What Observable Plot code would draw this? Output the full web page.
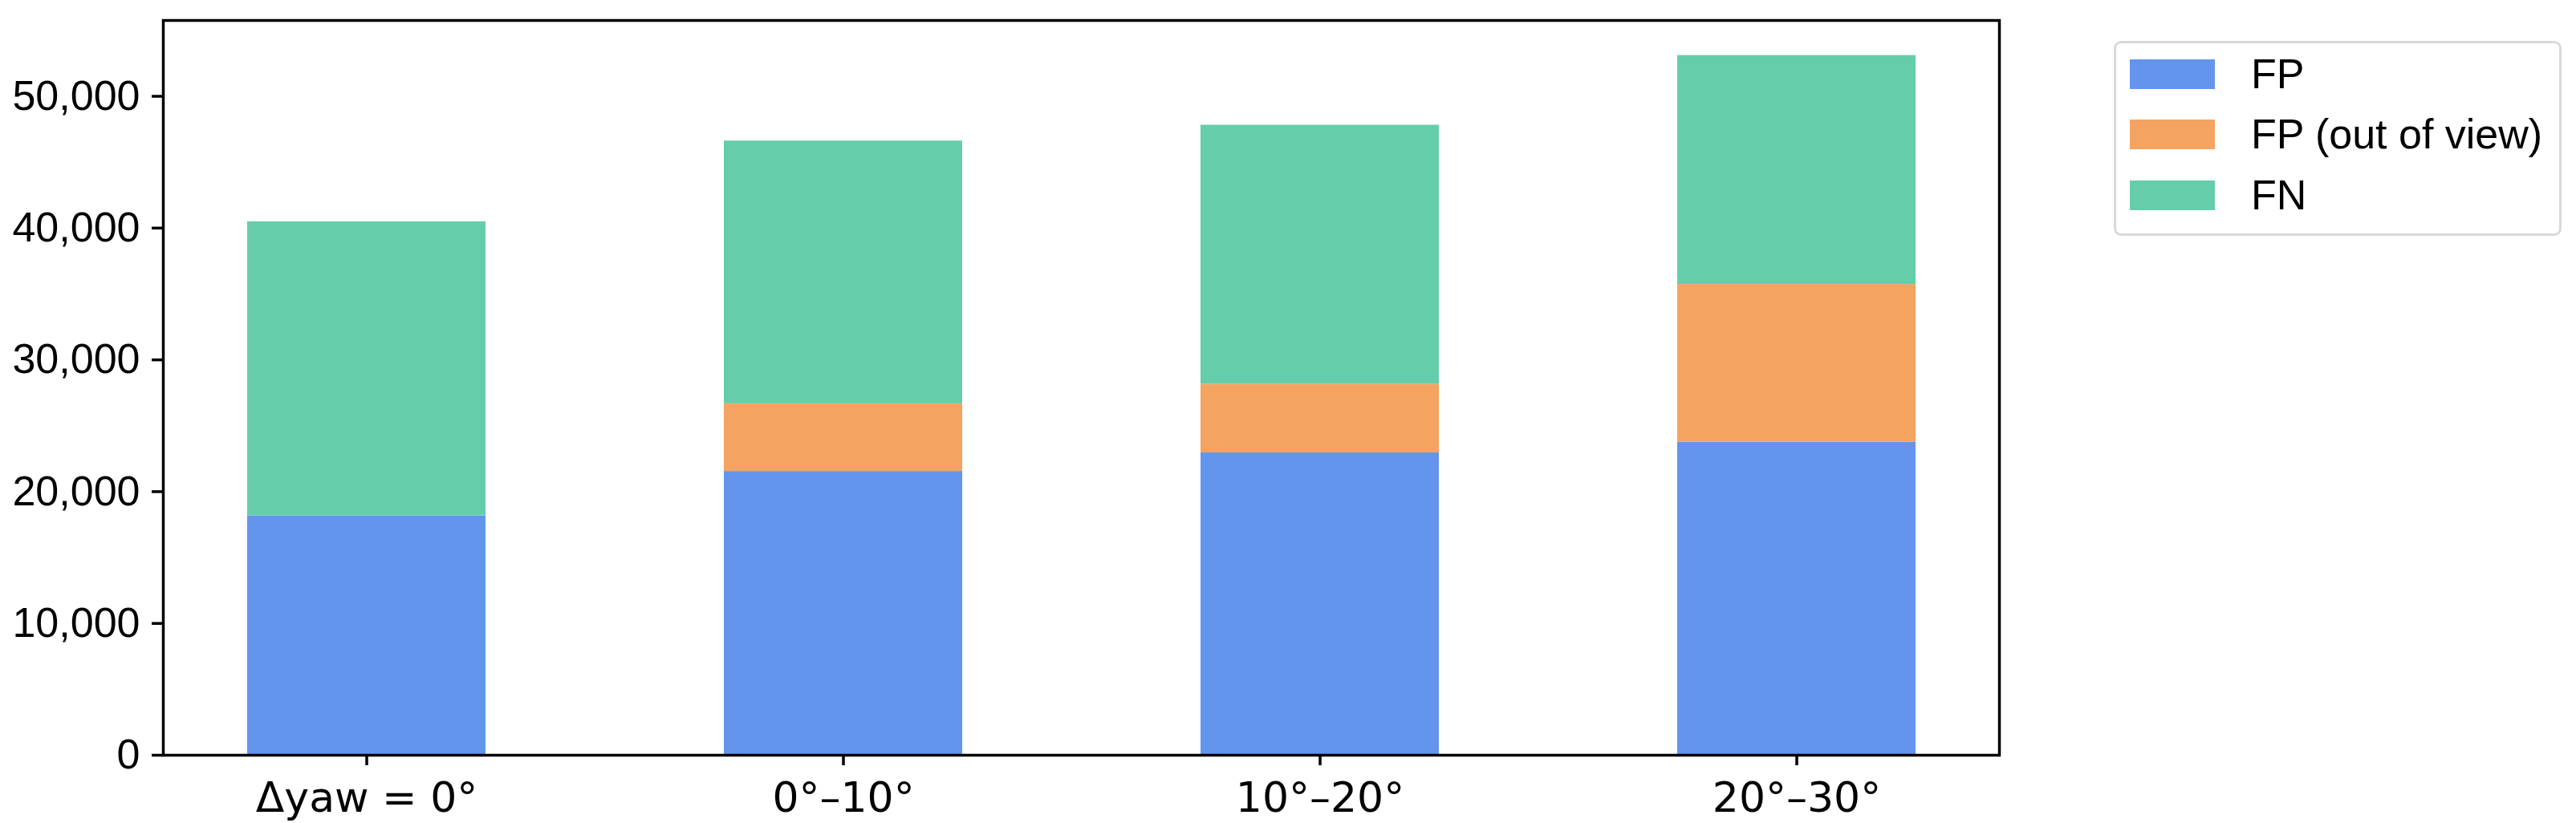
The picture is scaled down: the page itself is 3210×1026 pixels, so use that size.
<!DOCTYPE html>
<html><head><meta charset="utf-8">
<script src="https://cdn.jsdelivr.net/npm/d3@7"></script>
<script src="https://cdn.jsdelivr.net/npm/@observablehq/plot@0.6"></script>
<style>
body{margin:0;background:#fff;}
#wrap{position:relative;width:3210px;height:1026px;}
#legend{position:absolute;left:2634px;top:51px;width:558px;height:243px;box-sizing:border-box;border:3px solid #d9d9d9;border-radius:9px;background:#fff;font-family:"Liberation Sans",Arial,sans-serif;font-size:52px;color:#000;}
.sw{position:absolute;left:17px;width:106px;height:37px;}
.lab{position:absolute;left:168px;white-space:nowrap;line-height:52px;height:52px;}
</style>
</head><body>
<div id="wrap"></div>
<script>
const categories = ["Δyaw = 0°", "0°–10°", "10°–20°", "20°–30°"];
const series = ["FP", "FP (out of view)", "FN"];
const colors = ["#6495ED", "#F4A460", "#66CDAA"];
const fpValues = [18170, 21540, 22945, 23750];
const fpOutOfViewValues = [0, 5130, 5205, 11970];
const fnValues = [22310, 19940, 19660, 17380];
const yTicks = [0, 10000, 20000, 30000, 40000, 50000];

const valuesBySeries = [fpValues, fpOutOfViewValues, fnValues];
const data = [];
series.forEach((s, si) => categories.forEach((c, ci) => data.push({category: c, series: s, value: valuesBySeries[si][ci]})));

const totals = categories.map((c, i) => fpValues[i] + fpOutOfViewValues[i] + fnValues[i]);
const yMax = d3.max(totals) * 1.05;

const chart = Plot.plot({
  width: 3210,
  height: 1026,
  marginLeft: 203,
  marginRight: 719,
  marginTop: 25,
  marginBottom: 85,
  style: {background: "#fff", color: "#000"},
  x: {domain: categories, paddingInner: 0.5, paddingOuter: 0.175, label: null},
  y: {domain: [0, yMax], label: null},
  color: {domain: series, range: colors},
  marks: [
    Plot.barY(data, {x: "category", y: "value", fill: "series", z: "series", order: series, insetLeft: 0, insetRight: 0}),
    Plot.axisY({ticks: yTicks, tickFormat: d3.format(","), tickSize: 14, tickPadding: 15, fontSize: 52, strokeWidth: 3.5, label: null, fontFamily: "Liberation Sans, Arial, sans-serif"}),
    Plot.axisX({tickSize: 13, tickPadding: 21, fontSize: 52, strokeWidth: 3.5, label: null, fontFamily: "DejaVu Sans, sans-serif"}),
    Plot.frame({stroke: "#000", strokeWidth: 3.5})
  ]
});

// Mathtext-style first label: Δ upright, "yaw" italic
d3.select(chart).selectAll('g[aria-label="x-axis tick label"] text').each(function(d) {
  if (d === categories[0]) {
    const t = d3.select(this);
    t.text(null);
    t.append("tspan").text("Δ");
    t.append("tspan").attr("font-style", "italic").text("yaw");
    t.append("tspan").text(" = 0°");
  }
});

const wrap = document.getElementById("wrap");
wrap.appendChild(chart);

const legend = document.createElement("div");
legend.id = "legend";
const rowCenters = [38, 113, 189];
series.forEach((s, i) => {
  const sw = document.createElement("div");
  sw.className = "sw";
  sw.style.background = colors[i];
  sw.style.top = (rowCenters[i] - 18.5) + "px";
  legend.appendChild(sw);
  const lab = document.createElement("div");
  lab.className = "lab";
  lab.textContent = s;
  lab.style.top = (rowCenters[i] - 26) + "px";
  legend.appendChild(lab);
});
wrap.appendChild(legend);
</script>
</body></html>
